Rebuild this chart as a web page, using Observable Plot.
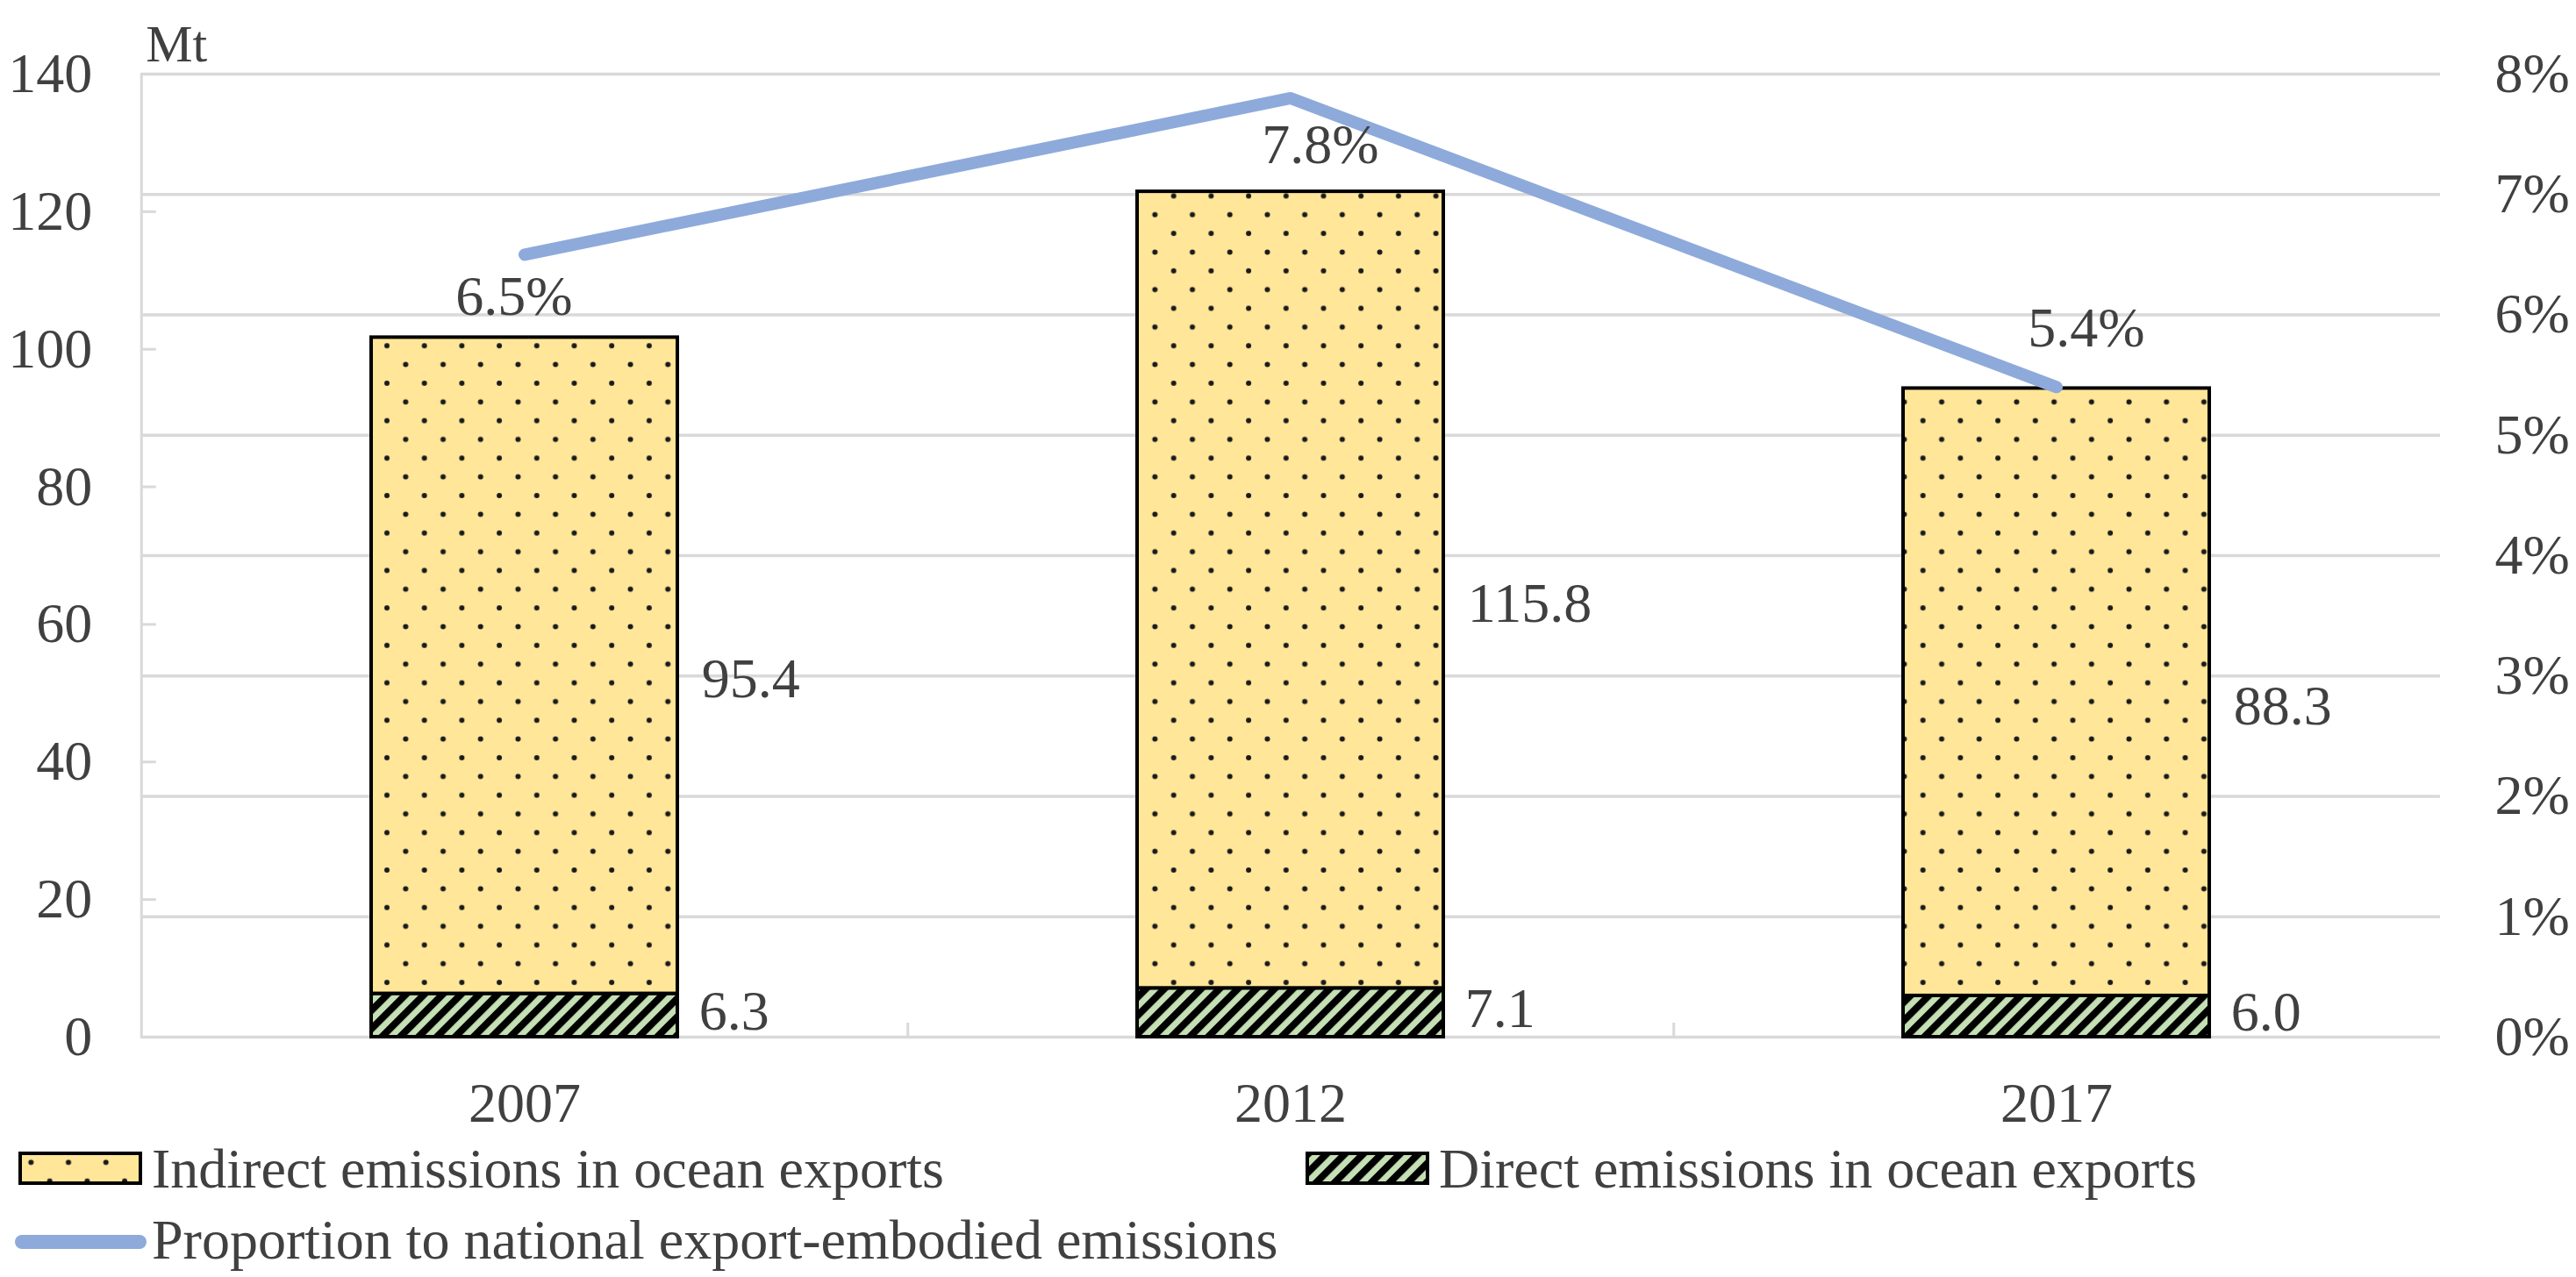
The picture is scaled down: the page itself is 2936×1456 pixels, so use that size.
<!DOCTYPE html>
<html><head><meta charset="utf-8">
<script src="https://cdn.jsdelivr.net/npm/d3@7"></script>
<script src="https://cdn.jsdelivr.net/npm/@observablehq/plot@0.6"></script>
<style>
html,body{margin:0;padding:0;background:#fff;overflow:hidden}
#chart svg{display:block}
#legend{display:block}
</style></head><body>
<svg width="0" height="0" style="position:absolute">
<defs>
<pattern id="dots" patternUnits="userSpaceOnUse" width="42.7" height="42.7">
 <rect width="42.7" height="42.7" fill="#ffe699"/>
 <circle cx="14" cy="10" r="3" fill="#1a1a1a"/>
 <circle cx="35.35" cy="31.35" r="3" fill="#1a1a1a"/>
</pattern>
<pattern id="hatch" patternUnits="userSpaceOnUse" width="14.8" height="14.8" patternTransform="rotate(45)">
 <rect width="14.8" height="14.8" fill="#c5e0b4"/>
 <rect width="8" height="14.8" fill="#000"/>
</pattern>
</defs></svg>
<div id="chart"></div>
<svg id="legend" width="2936" height="162" style="font-family:'Liberation Serif';font-size:64px;fill:#404040">
 <rect x="23" y="21" width="137" height="34" fill="url(#dots)" stroke="#000" stroke-width="4"/>
 <text x="173" y="60">Indirect emissions in ocean exports</text>
 <rect x="1490" y="21" width="137" height="34" fill="url(#hatch)" stroke="#000" stroke-width="4"/>
 <text x="1640" y="60">Direct emissions in ocean exports</text>
 <line x1="25" x2="159" y1="122" y2="122" stroke="#8eaadb" stroke-width="16" stroke-linecap="round"/>
 <text x="173" y="141">Proportion to national export-embodied emissions</text>
</svg>
<script>
const years = ["2007", "2012", "2017"];
const direct = [6.3, 7.1, 6.0];
const indirect = [95.4, 115.8, 88.3];
const share = [6.5, 7.8, 5.4];
const mtTicks = [0, 20, 40, 60, 80, 100, 120, 140];
const pctTicks = [0, 1, 2, 3, 4, 5, 6, 7, 8];

const rows = years.map((year, i) => ({year, direct: direct[i], indirect: indirect[i], share: share[i]}));

const W = 2936, H = 1294, ML = 160.75, MR = 155, MT = 84, MB = H - 1182;
const k = 140 / 8; // Mt per percentage point on the shared y scale
const frameW = W - ML - MR, frameH = H - MT - MB;
const step = frameW / years.length;
const bw = step * 0.4;

const chart = Plot.plot({
  width: W, height: H,
  marginLeft: ML, marginRight: MR, marginTop: MT, marginBottom: MB,
  x: {domain: years, paddingInner: 0.6, paddingOuter: 0.3},
  y: {domain: [0, 140]},
  style: {fontFamily: "Liberation Serif", fontSize: "64px", color: "#404040", background: "white"},
  marks: [
    Plot.gridY(pctTicks.map(p => p * k), {stroke: "#d9d9d9", strokeOpacity: 1, strokeWidth: 3.5}),
    Plot.frame({anchor: "left", stroke: "#d9d9d9", strokeWidth: 3}),
    Plot.tickY(mtTicks, {y: d => d, insetRight: frameW - 17, stroke: "#d9d9d9", strokeWidth: 3}),
    Plot.tickX(years.slice(0, -1), {x: d => d, dx: step / 2, insetTop: frameH - 16, stroke: "#d9d9d9", strokeWidth: 3}),
    Plot.barY(rows, {x: "year", y1: 0, y2: "direct", fill: "url(#hatch)", stroke: "#000", strokeWidth: 4}),
    Plot.barY(rows, {x: "year", y1: "direct", y2: d => d.direct + d.indirect, fill: "url(#dots)", stroke: "#000", strokeWidth: 4}),
    Plot.line(rows, {x: "year", y: d => d.share * k, stroke: "#8eaadb", strokeWidth: 14, strokeLinecap: "round"}),
    Plot.text(rows, {x: "year", y: d => d.direct / 2, text: d => d.direct.toFixed(1), dx: bw / 2 + 24, dy: -4, textAnchor: "start"}),
    Plot.text(rows, {x: "year", y: d => d.direct + d.indirect / 2, text: d => d.indirect.toFixed(1), dx: bw / 2 + 27, dy: 16, textAnchor: "start"}),
    Plot.text(rows, {filter: (d, i) => i === 0, x: "year", y: d => d.share * k, text: d => d.share.toFixed(1) + "%", dx: -12, dy: 48}),
    Plot.text(rows, {filter: (d, i) => i === 1, x: "year", y: d => d.share * k, text: d => d.share.toFixed(1) + "%", dx: 34, dy: 54}),
    Plot.text(rows, {filter: (d, i) => i === 2, x: "year", y: d => d.share * k, text: d => d.share.toFixed(1) + "%", dx: 34, dy: -67}),
    Plot.axisY(mtTicks, {anchor: "left", tickSize: 0, tickPadding: 56, label: null}),
    Plot.axisY(pctTicks.map(p => p * k), {anchor: "right", tickSize: 0, tickPadding: 62, label: null, tickFormat: d => Math.round(d / k) + "%"}),
    Plot.axisX({anchor: "bottom", tickSize: 0, tickPadding: 51, label: null}),
    Plot.text(["Mt"], {frameAnchor: "top-left", text: d => d, dx: 5, dy: -57, textAnchor: "start", fontSize: 60})
  ]
});
document.getElementById("chart").appendChild(chart);
</script>
</body></html>
